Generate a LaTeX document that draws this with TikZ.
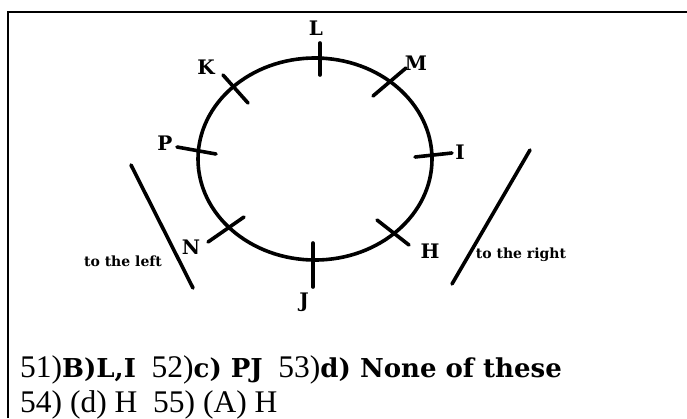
\documentclass[tikz,border=0pt]{standalone}
\usepackage{fontspec}
\usepackage{tikz}
\newfontfamily\ansfont{Liberation Serif}
\newfontfamily\boldserif{DejaVu Serif}

\begin{document}
\begin{tikzpicture}[
    x=1pt, y=-1pt,
    ring/.style={line width=3.6pt},
    tick/.style={line width=3.6pt, line cap=round},
    seat/.style={font=\fontsize{20}{20}\selectfont\boldserif\bfseries, inner sep=0pt},
    side/.style={font=\fontsize{14}{14}\selectfont\boldserif\bfseries, inner sep=0pt},
    ans/.style={font=\fontsize{31.5}{31.5}\selectfont\ansfont, anchor=base west, inner sep=0pt},
]
\useasboundingbox (0,0) rectangle (687,418);
\newcommand{\key}[1]{{\fontsize{26}{26}\selectfont\boldserif\bfseries #1}}

% ── Frame ──
\draw[line width=2.8pt] (8,418) -- (8,12) -- (687,12);

% ── Round table ──
\draw[ring] (315,159) ellipse [x radius=117, y radius=101];

% ── Seats (ticks) ──
\draw[tick] (320,43) -- (320,75);
\draw[tick] (373,96) -- (406,68);
\draw[tick] (223,75) -- (248,103);
\draw[tick] (177,147) -- (216,154);
\draw[tick] (415,157) -- (452,153);
\draw[tick] (208,242) -- (244,217);
\draw[tick] (377,220) -- (409,245);
\draw[tick] (313,243) -- (313,287);

% ── Seat labels ──
\node[seat] (L) at (316,28) {L};
\node[seat] (M) at (416,63) {M};
\node[seat] (K) at (206,67) {K};
\node[seat] (P) at (165,143) {P};
\node[seat] (I) at (460,152) {I};
\node[seat] (N) at (191,247) {N};
\node[seat] (H) at (430,251) {H};
\node[seat] (J) at (304,302) {J};

% ── Sides ──
\draw[tick] (131,165) -- (193,288);
\draw[tick] (530,150) -- (452,284);
\node[side] (left) at (123,261) {to the left};
\node[side] (right) at (521,255) {to the right};

% ── Answers ──
\node[ans] (ans1) at (20,377) {51)\key{B)L,I}\ \ 52)\key{c) PJ}\ \ 53)\key{d) None of these}};
\node[ans] (ans2) at (20,412) {54) (d) H\ \ 55) (A) H};

\end{tikzpicture}
\end{document}
